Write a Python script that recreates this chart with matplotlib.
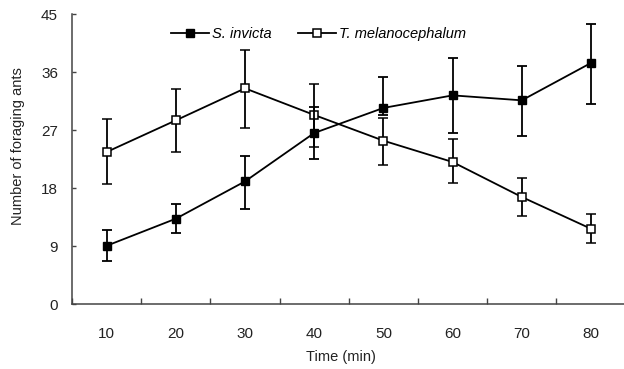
import matplotlib
matplotlib.use("Agg")
import matplotlib.pyplot as plt
from matplotlib.lines import Line2D
import numpy as np

plt.rcParams['font.family'] = ['Liberation Sans', 'DejaVu Sans']

times = ["10", "20", "30", "40", "50", "60", "70", "80"]

invicta_mean = [9.08, 13.28, 19.07, 26.58, 30.47, 32.42, 31.65, 37.45]
invicta_upper = [11.57, 15.56, 23.06, 30.62, 35.28, 38.23, 36.93, 43.5]
invicta_lower = [6.65, 11.1, 14.78, 22.55, 29.4, 26.58, 26.16, 31.13]

melano_mean = [23.63, 28.54, 33.51, 29.38, 25.39, 22.08, 16.65, 11.72]
melano_upper = [28.8, 33.42, 39.52, 34.19, 28.9, 25.65, 19.6, 14.0]
melano_lower = [18.66, 23.63, 27.36, 24.41, 21.66, 18.82, 13.63, 9.5]

yticks = [0, 9, 18, 27, 36, 45]

fig = plt.figure(figsize=(6.24, 3.69), dpi=100)
ax = fig.add_axes([72/624, 1-304.3/369, (625.6-72)/624, (304.3-14.3)/369])

x = np.arange(len(times))

def err(mean, lo, hi):
    m = np.array(mean); return [m - np.array(lo), np.array(hi) - m]

ax.errorbar(x, melano_mean, yerr=err(melano_mean, melano_lower, melano_upper),
            color='black', lw=1.3, elinewidth=1.3, capsize=3.5, capthick=1.3,
            marker='s', markersize=6, markerfacecolor='white', markeredgecolor='black',
            markeredgewidth=1.1, zorder=3)
ax.errorbar(x, invicta_mean, yerr=err(invicta_mean, invicta_lower, invicta_upper),
            color='black', lw=1.3, elinewidth=1.3, capsize=3.5, capthick=1.3,
            marker='s', markersize=6, markerfacecolor='black', markeredgecolor='black',
            zorder=4)

ax.set_xlim(-0.5, len(times) - 0.5)
ax.set_ylim(0, 45)
ax.set_yticks(yticks)
ax.set_yticklabels([str(v) for v in yticks])
ax.set_xticks(x)
ax.set_xticklabels(times)
ax.set_xticks(np.arange(-0.5, len(times), 1), minor=True)

for s in ['top', 'right']:
    ax.spines[s].set_visible(False)
for s in ['left', 'bottom']:
    ax.spines[s].set_color('#444444')
    ax.spines[s].set_linewidth(1.1)

ax.tick_params(axis='y', direction='in', length=3, width=1, color='#444444',
               labelsize=11, pad=10, labelcolor='#222222')
ax.tick_params(axis='x', which='major', length=0, labelsize=11, pad=16, labelcolor='#222222')
ax.tick_params(axis='x', which='minor', direction='in', length=4, width=1, color='#444444')

handles = [
    Line2D([], [], color='black', lw=1.3, marker='s', markersize=6,
           markerfacecolor='black', markeredgecolor='black'),
    Line2D([], [], color='black', lw=1.3, marker='s', markersize=6,
           markerfacecolor='white', markeredgecolor='black', markeredgewidth=1.1),
]
labels = ['S. invicta', 'T. melanocephalum']
leg = ax.legend(handles, labels, loc='center', bbox_to_anchor=(318.5/624, 1-34/369),
                bbox_transform=fig.transFigure, ncol=2, frameon=False,
                prop={'style': 'italic', 'size': 10.5}, handlelength=2.6,
                handletextpad=0.2, columnspacing=1.8, borderpad=0)

fig.text(18/624, 1-146/369, 'Number of foraging ants', rotation=90, ha='center', va='center',
         fontsize=10.5, color='#222222')
fig.text(341/624, 1-357/369, 'Time (min)', ha='center', va='center', fontsize=10.5, color='#222222')

fig.savefig('out.png', dpi=100)
